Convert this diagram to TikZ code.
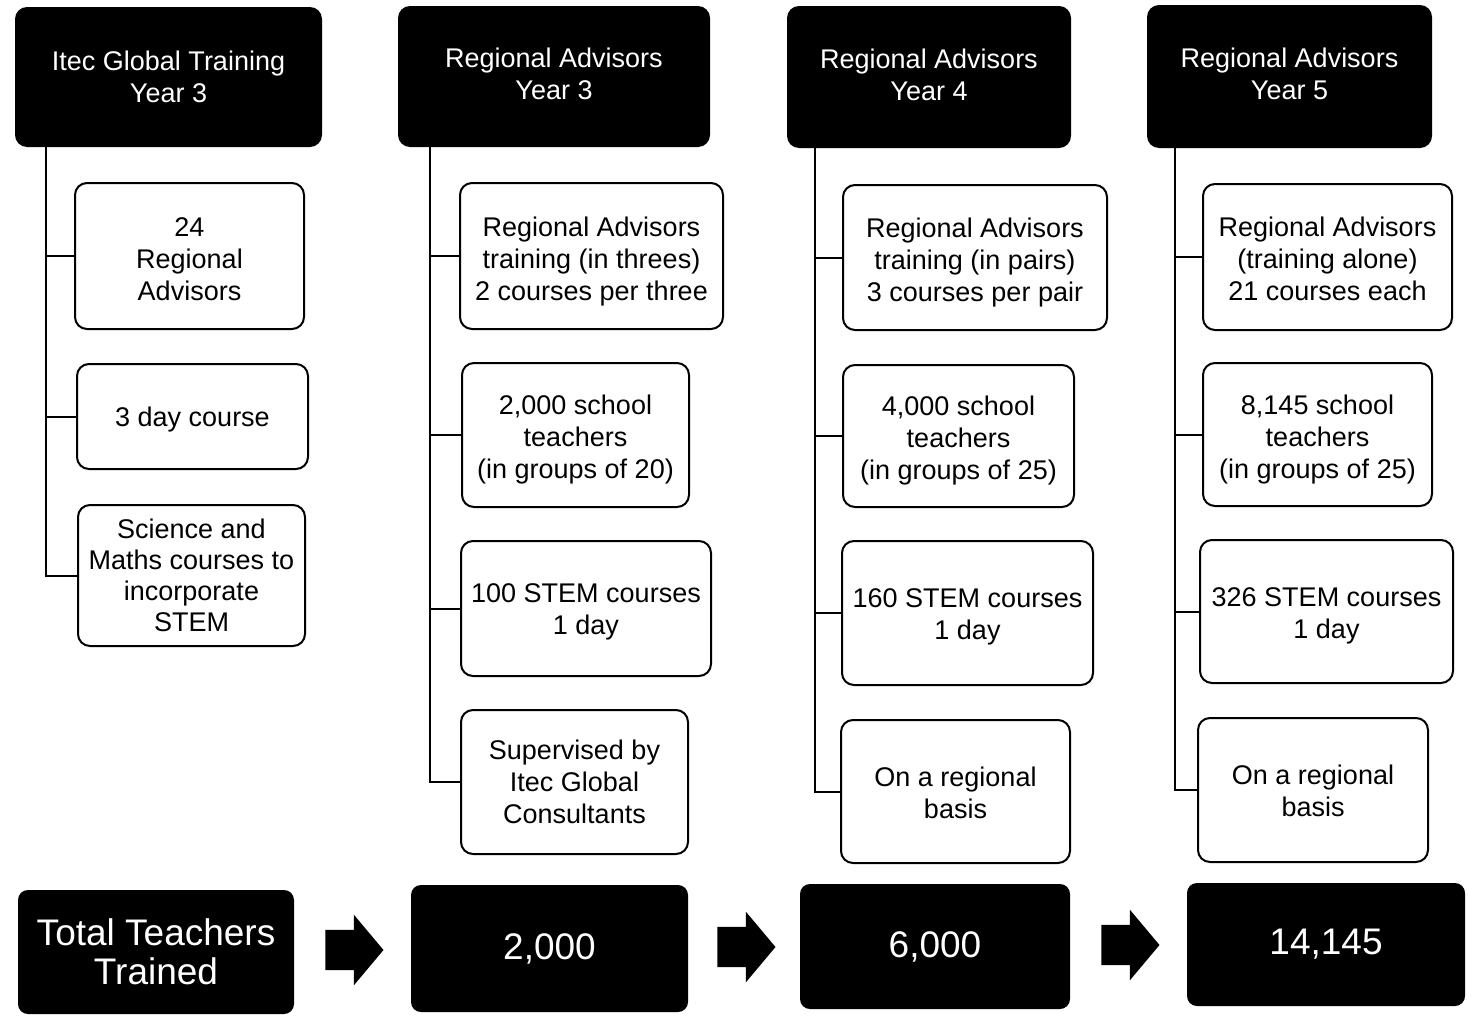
\documentclass[tikz,border=0pt]{standalone}
\usepackage{fontspec}
\setmainfont{Liberation Sans}
\usetikzlibrary{shapes.arrows}
\newsavebox\lnbox
\newcommand\dnlines[2]{\sbox\lnbox{\begin{tabular}{@{}c@{}}#2\end{tabular}}\raisebox{-#1}[\ht\lnbox][\dp\lnbox]{\usebox\lnbox}}
\begin{document}
\begin{tikzpicture}[x=1pt,y=-1pt,
  headbox/.style={fill=black, rounded corners=12pt, text=white, align=center, inner sep=0pt,
    font=\fontsize{27}{32}\selectfont},
  stepbox/.style={draw=black, line width=2pt, rounded corners=12pt, fill=white, align=center, inner sep=0pt,
    font=\fontsize{27}{32}\selectfont},
  totalbox/.style={fill=black, rounded corners=10pt, text=white, align=center, inner sep=0pt,
    font=\fontsize{37}{39}\selectfont},
  link/.style={line width=2pt, draw=black},
  blockarrow/.style={single arrow, fill=black, minimum height=58pt,
    single arrow head extend=15pt, single arrow tip angle=100, inner sep=0pt}
]
\useasboundingbox (0,0) rectangle (1472,1017);

% column 1
\node[headbox, minimum width=307pt, minimum height=140pt] (h1) at (168.5,77) {Itec Global Training\\Year 3};
\node[stepbox, minimum width=229pt, minimum height=146pt] (b11) at (189.5,256) {\dnlines{6pt}{24\\Regional\\Advisors}};
\node[stepbox, minimum width=231pt, minimum height=105pt] (b12) at (192.5,416.5) {\dnlines{4pt}{3 day course}};
\node[stepbox, minimum width=227pt, minimum height=141pt, font=\fontsize{27}{31}\selectfont] (b13) at (191.5,575.5) {Science and\\Maths courses to\\incorporate\\STEM};

% column 2
\node[headbox, minimum width=312pt, minimum height=141pt] (h2) at (554,76.5) {\dnlines{1pt}{Regional Advisors\\Year 3}};
\node[stepbox, minimum width=263pt, minimum height=146pt] (b21) at (591.5,256) {\dnlines{6pt}{Regional Advisors\\training (in threes)\\2 courses per three}};
\node[stepbox, minimum width=227pt, minimum height=144pt] (b22) at (575.5,435) {\dnlines{5pt}{2,000 school\\teachers\\(in groups of 20)}};
\node[stepbox, minimum width=250pt, minimum height=135pt] (b23) at (586,608.5) {\dnlines{4pt}{100 STEM courses\\1 day}};
\node[stepbox, minimum width=227pt, minimum height=144pt] (b24) at (574.5,782) {Supervised by\\Itec Global\\Consultants};

% column 3
\node[headbox, minimum width=284pt, minimum height=142pt] (h3) at (929,77) {\dnlines{1pt}{Regional Advisors\\Year 4}};
\node[stepbox, minimum width=264pt, minimum height=145pt] (b31) at (975,257.5) {\dnlines{6pt}{Regional Advisors\\training (in pairs)\\3 courses per pair}};
\node[stepbox, minimum width=231pt, minimum height=142pt] (b32) at (958.5,436) {\dnlines{5pt}{4,000 school\\teachers\\(in groups of 25)}};
\node[stepbox, minimum width=251pt, minimum height=144pt] (b33) at (967.5,613) {\dnlines{4pt}{160 STEM courses\\1 day}};
\node[stepbox, minimum width=229pt, minimum height=143pt] (b34) at (955.5,791.5) {\dnlines{5pt}{On a regional\\basis}};

% column 4
\node[headbox, minimum width=285pt, minimum height=143pt] (h4) at (1289.5,76.5) {\dnlines{1pt}{Regional Advisors\\Year 5}};
\node[stepbox, minimum width=249pt, minimum height=146pt] (b41) at (1327.5,257) {\dnlines{5pt}{Regional Advisors\\(training alone)\\21 courses each}};
\node[stepbox, minimum width=229pt, minimum height=143pt] (b42) at (1317.5,434.5) {\dnlines{6pt}{8,145 school\\teachers\\(in groups of 25)}};
\node[stepbox, minimum width=253pt, minimum height=143pt] (b43) at (1326.5,611.5) {\dnlines{5pt}{326 STEM courses\\1 day}};
\node[stepbox, minimum width=230pt, minimum height=144pt] (b44) at (1313,790) {\dnlines{4pt}{On a regional\\basis}};

% spines
\coordinate (s1) at (46,0);
\coordinate (s2) at (430,0);
\coordinate (s3) at (815,0);
\coordinate (s4) at (1175,0);

\draw[link] (h1.south -| s1) |- (b13.west);
\draw[link] (b11.west -| s1) -- (b11.west);
\draw[link] (b12.west -| s1) -- (b12.west);

\draw[link] (h2.south -| s2) |- (b24.west);
\draw[link] (b21.west -| s2) -- (b21.west);
\draw[link] (b22.west -| s2) -- (b22.west);
\draw[link] (b23.west -| s2) -- (b23.west);

\draw[link] (h3.south -| s3) |- (b34.west);
\draw[link] (b31.west -| s3) -- (b31.west);
\draw[link] (b32.west -| s3) -- (b32.west);
\draw[link] (b33.west -| s3) -- (b33.west);

\draw[link] (h4.south -| s4) |- (b44.west);
\draw[link] (b41.west -| s4) -- (b41.west);
\draw[link] (b42.west -| s4) -- (b42.west);
\draw[link] (b43.west -| s4) -- (b43.west);

% totals
\node[totalbox, minimum width=276pt, minimum height=124pt] (t0) at (156,952) {Total Teachers\\Trained};
\node[totalbox, minimum width=277pt, minimum height=127pt] (t1) at (549.5,948.5) {2,000};
\node[totalbox, minimum width=270pt, minimum height=125pt] (t2) at (935,946.5) {6,000};
\node[totalbox, minimum width=278pt, minimum height=123pt] (t3) at (1326,944.5) {14,145};

\node[blockarrow] (a1) at (346,950) {\rule{0pt}{40pt}};
\node[blockarrow] (a2) at (738,947) {\rule{0pt}{40pt}};
\node[blockarrow] (a3) at (1122,945) {\rule{0pt}{40pt}};
\end{tikzpicture}
\end{document}
